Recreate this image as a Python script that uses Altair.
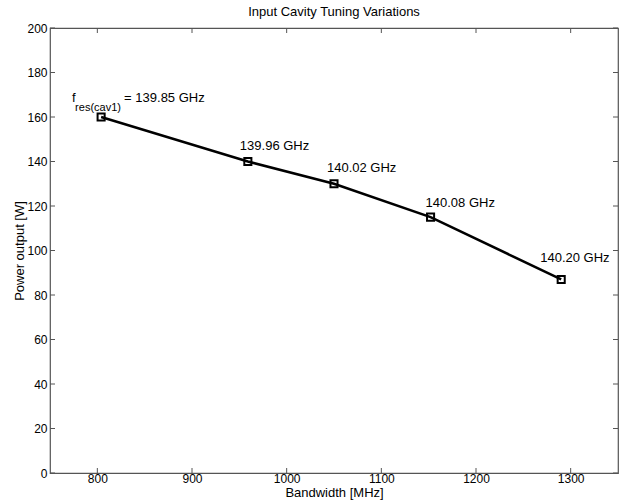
import altair as alt
import pandas as pd

# Measured operating points of the input cavity tuning sweep
bandwidth_mhz = [804, 959, 1050, 1152, 1290]
power_w = [160, 140, 130, 115, 87]
resonance_labels = ["139.85 GHz", "139.96 GHz", "140.02 GHz", "140.08 GHz", "140.20 GHz"]

x_ticks = [800, 900, 1000, 1100, 1200, 1300]
y_ticks = [0, 20, 40, 60, 80, 100, 120, 140, 160, 180, 200]

W, H = 568, 445
FONT = "Liberation Sans"
AXIS_GRAY = "#555555"

df = pd.DataFrame({"bw": bandwidth_mhz, "p": power_w, "label": resonance_labels})
xt = pd.DataFrame({"t": x_ticks})
yt = pd.DataFrame({"t": y_ticks})

xs = alt.Scale(domain=[750, 1350], nice=False, zero=False)
ys = alt.Scale(domain=[0, 200], nice=False)

x_enc = alt.X("bw:Q", scale=xs,
              axis=alt.Axis(values=x_ticks, format="d", title="Bandwidth [MHz]",
                            labelPadding=0, titlePadding=2))
y_enc = alt.Y("p:Q", scale=ys,
              axis=alt.Axis(values=y_ticks, format="d", title="Power output [W]",
                            labelPadding=3, titlePadding=0))

line = alt.Chart(df).mark_line(color="black", strokeWidth=2.5).encode(x=x_enc, y=y_enc)
markers = alt.Chart(df).mark_point(shape="square", filled=False, color="black",
                                   strokeWidth=2, size=50, opacity=1).encode(
    x=alt.X("bw:Q", scale=xs), y=alt.Y("p:Q", scale=ys))

# inward tick marks on all four sides of the box
tick_bottom = alt.Chart(xt).mark_rule(color=AXIS_GRAY, strokeWidth=1).encode(
    x=alt.X("t:Q", scale=xs), y=alt.value(H), y2=alt.value(H - 5))
tick_top = alt.Chart(xt).mark_rule(color=AXIS_GRAY, strokeWidth=1).encode(
    x=alt.X("t:Q", scale=xs), y=alt.value(0), y2=alt.value(5))
tick_left = alt.Chart(yt).mark_rule(color=AXIS_GRAY, strokeWidth=1).encode(
    y=alt.Y("t:Q", scale=ys), x=alt.value(0), x2=alt.value(5))
tick_right = alt.Chart(yt).mark_rule(color=AXIS_GRAY, strokeWidth=1).encode(
    y=alt.Y("t:Q", scale=ys), x=alt.value(W), x2=alt.value(W - 5))

# per-point annotation offsets (pixels) for the resonance frequency labels
offsets = [(23, -19), (-8, -16), (-7, -16), (-5, -14), (-21, -21)]
texts = []
for i, (dx, dy) in enumerate(offsets):
    row = df.iloc[[i]].copy()
    if i == 0:
        row["label"] = "=  " + row["label"]
    texts.append(alt.Chart(row).mark_text(align="left", baseline="middle", dx=dx, dy=dy,
                                          font=FONT, fontSize=13, color="black").encode(
        x=alt.X("bw:Q", scale=xs), y=alt.Y("p:Q", scale=ys), text="label:N"))

first = df.iloc[[0]]
f_main = alt.Chart(first).mark_text(align="left", baseline="middle", dx=-29, dy=-19,
                                    font=FONT, fontSize=13, color="black").encode(
    x=alt.X("bw:Q", scale=xs), y=alt.Y("p:Q", scale=ys), text=alt.value("f"))
f_sub = alt.Chart(first).mark_text(align="left", baseline="middle", dx=-26, dy=-9,
                                   font=FONT, fontSize=11, color="black").encode(
    x=alt.X("bw:Q", scale=xs), y=alt.Y("p:Q", scale=ys), text=alt.value("res(cav1)"))

chart = alt.layer(
    line, markers, tick_bottom, tick_top, tick_left, tick_right, *texts, f_main, f_sub
).properties(
    width=W, height=H,
    background="white",
    title=alt.TitleParams("Input Cavity Tuning Variations", font=FONT, fontSize=13,
                          fontWeight="normal", color="black", anchor="middle",
                          frame="group", offset=3),
    autosize=alt.AutoSizeParams(type="none"),
    padding={"left": 50, "top": 28, "right": 12, "bottom": 30},
).configure_view(
    stroke=AXIS_GRAY, strokeWidth=1.2
).configure_axis(
    domain=False, ticks=False, grid=False,
    labelFont=FONT, labelFontSize=12, labelColor="black",
    titleFont=FONT, titleFontSize=13, titleFontWeight="normal", titleColor="black",
)

chart.save("out.html", embed_options={"renderer": "svg", "actions": False})
